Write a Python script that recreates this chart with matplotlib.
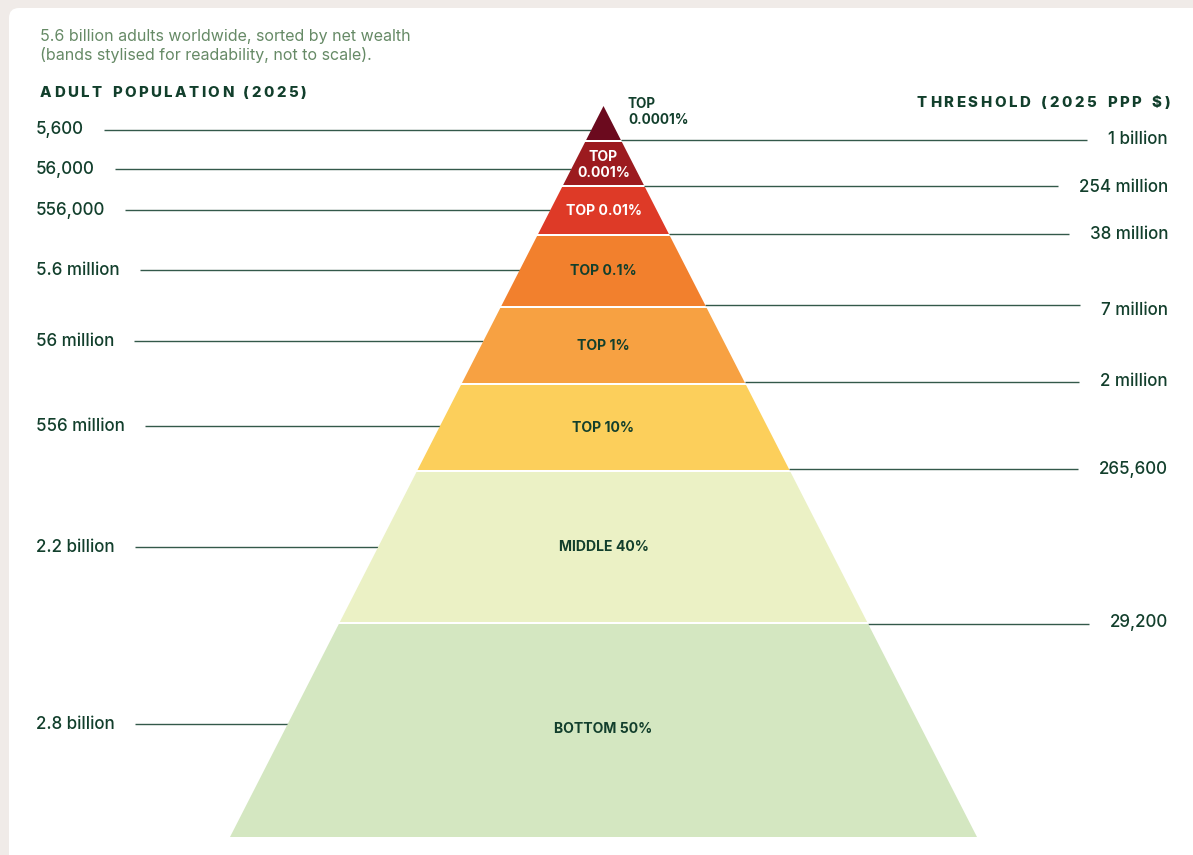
import matplotlib
matplotlib.use("Agg")
import matplotlib.pyplot as plt
from matplotlib.patches import Polygon, FancyBboxPatch

# ---------------- data ----------------
bands = ["TOP\n0.0001%", "TOP\n0.001%", "TOP 0.01%", "TOP 0.1%", "TOP 1%",
         "TOP 10%", "MIDDLE 40%", "BOTTOM 50%"]
population = ["5,600", "56,000", "556,000", "5.6 million", "56 million",
              "556 million", "2.2 billion", "2.8 billion"]
thresholds = ["1 billion", "254 million", "38 million", "7 million",
              "2 million", "265,600", "29,200"]
band_colors = ["#6b0a1e", "#9c1b1f", "#de3a27", "#f2802d", "#f7a142",
               "#fccf5b", "#ebf1c5", "#d4e7c1"]
band_text_colors = ["#123f2c", "white", "white", "#123f2c", "#123f2c",
                    "#123f2c", "#123f2c", "#123f2c"]
subtitle = ["5.6 billion adults worldwide, sorted by net wealth",
            "(bands stylised for readability, not to scale)."]
left_header = "ADULT POPULATION (2025)"
right_header = "THRESHOLD (2025 PPP $)"

# ---------------- layout (pixels) ----------------
W, H = 1193, 855
apex_x, apex_y = 603.5, 106
base_y = 837
slope = 373.5 / (base_y - apex_y)          # half-width per px of depth
band_edges = [106, 141, 186, 235, 307, 384, 471, 623, 837]
left_label_y = [130, 169, 210, 270, 341, 426, 547, 724]
right_label_y = [140, 187, 234, 310, 381, 469, 622]
right_line_y = [140, 186, 234, 305, 382, 469, 624]

DARK = "#123f2c"
LINE = "#33594a"
FONT = "Inter"

def px(p):
    return p * 0.72

fig = plt.figure(figsize=(W / 100, H / 100), dpi=100)
fig.patch.set_facecolor("#f0ebe8")
ax = fig.add_axes([0, 0, 1, 1])
ax.set_xlim(0, W)
ax.set_ylim(H, 0)
ax.axis("off")

card = FancyBboxPatch((9, 8), W + 40, H + 40,
                      boxstyle="round,pad=0,rounding_size=10",
                      fc="white", ec="none", zorder=0)
ax.add_patch(card)

def half(y):
    return (y - apex_y) * slope

# bands
for i, (lab, col, tc) in enumerate(zip(bands, band_colors, band_text_colors)):
    y0 = band_edges[i] + (0 if i == 0 else 1)
    y1 = band_edges[i + 1] - (0 if i == len(bands) - 1 else 1)
    if i == 0:
        pts = [(apex_x, y0), (apex_x + half(y1), y1), (apex_x - half(y1), y1)]
    else:
        pts = [(apex_x - half(y0), y0), (apex_x + half(y0), y0),
               (apex_x + half(y1), y1), (apex_x - half(y1), y1)]
    ax.add_patch(Polygon(pts, closed=True, fc=col, ec="none", zorder=2))
    cy = (band_edges[i] + band_edges[i + 1]) / 2
    if i == 0:
        ax.text(628, 112, lab, ha="left", va="center", fontsize=px(13.5),
                fontweight="bold", color=DARK, family=FONT, linespacing=1.25,
                zorder=3)
    else:
        if i == 1:
            cy = 165
        if i == 7:
            cy = 729
        ax.text(apex_x, cy, lab, ha="center", va="center", fontsize=px(14),
                fontweight="bold", color=tc, family=FONT, linespacing=1.1,
                zorder=3)

fig.canvas.draw()
renderer = fig.canvas.get_renderer()

# left labels + leader lines
for lab, y in zip(population, left_label_y):
    t = ax.text(36, y, lab, ha="left", va="center", fontsize=px(17),
                fontweight="medium", color=DARK, family=FONT)
    bb = t.get_window_extent(renderer)
    x0 = bb.x1 + 20
    x1 = apex_x - half(y)
    ax.plot([x0, x1], [y, y], color=LINE, lw=1.0, zorder=1,
            solid_capstyle="butt")

# right labels + leader lines
for lab, y, ly in zip(thresholds, right_label_y, right_line_y):
    t = ax.text(1168, y, lab, ha="right", va="center", fontsize=px(17),
                fontweight="medium", color=DARK, family=FONT)
    bb = t.get_window_extent(renderer)
    x1 = bb.x0 - 21
    x0 = apex_x + half(ly)
    ax.plot([x0, x1], [ly, ly], color=LINE, lw=1.0, zorder=1,
            solid_capstyle="butt")

# subtitle
ax.text(40, 37, subtitle[0], ha="left", va="center", fontsize=px(16),
        color="#668a66", family=FONT)
ax.text(40, 55, subtitle[1], ha="left", va="center", fontsize=px(16),
        color="#668a66", family=FONT)

# spaced headers
def spaced(text, x, y, spacing, align="left", **kw):
    widths = []
    for ch in text:
        if ch == " ":
            tt = ax.text(0, 0, "a", **kw)
            w = tt.get_window_extent(renderer).width * 0.6
            tt.remove()
        else:
            tt = ax.text(0, 0, ch, **kw)
            w = tt.get_window_extent(renderer).width
            tt.remove()
        widths.append(w)
    total = sum(widths) + spacing * (len(text) - 1)
    cx = x if align == "left" else x - total
    for ch, w in zip(text, widths):
        if ch != " ":
            ax.text(cx, y, ch, ha="left", va="center", **kw)
        cx += w + spacing

hdr = dict(fontsize=px(15), fontweight="heavy", color=DARK, family=FONT)
spaced(left_header, 40, 93, 2.4, "left", **hdr)
spaced(right_header, 1170, 103, 2.6, "right", **hdr)

fig.savefig("out.png", dpi=100, facecolor=fig.get_facecolor())
